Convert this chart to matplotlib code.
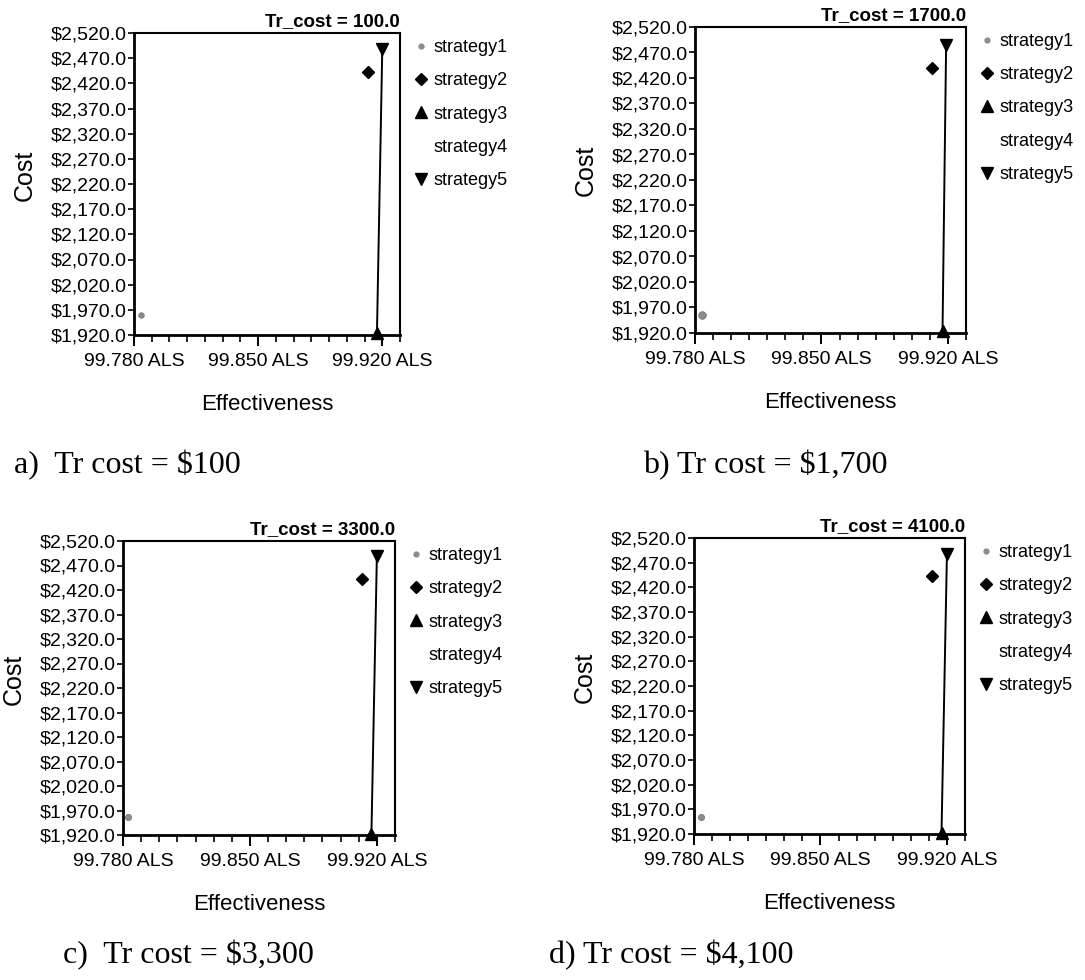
import matplotlib
matplotlib.use("Agg")
import matplotlib.pyplot as plt
import numpy as np
from matplotlib.lines import Line2D
from matplotlib.ticker import FixedLocator, FuncFormatter, MultipleLocator

plt.rcParams['font.family'] = ['Liberation Sans', 'DejaVu Sans']

# ---- data -------------------------------------------------------------
tr_costs = [100.0, 1700.0, 3300.0, 4100.0]
captions = ["a)  Tr cost = $100", "b) Tr cost = $1,700",
            "c)  Tr cost = $3,300", "d) Tr cost = $4,100"]
strategies = ["strategy1", "strategy2", "strategy3", "strategy4", "strategy5"]

# effectiveness (ALS) and cost per panel; strategy4 falls outside the plotted window
eff_s1 = [99.784, 99.784, 99.783, 99.784]
cost_s1 = [1959.0, 1955.0, 1956.0, 1955.0]
eff_s2 = [99.912, 99.911, 99.912, 99.912]
cost_s2 = [2443.0, 2440.0, 2442.0, 2443.0]
eff_s3 = [99.917, 99.917, 99.917, 99.917]
cost_s3 = [1923.0, 1923.0, 1923.0, 1923.0]
eff_s5 = [99.920, 99.919, 99.920, 99.920]
cost_s5 = [2488.0, 2485.0, 2489.0, 2488.0]

y_ticks = [1920, 1970, 2020, 2070, 2120, 2170, 2220, 2270, 2320, 2370, 2420, 2470, 2520]
x_ticks = [99.780, 99.850, 99.920]
x_limits = (99.780, 99.930)
y_limits = (1920, 2520)

# ---- layout (pixel boxes: left, top, right, bottom) --------------------
W, H = 1085, 980
boxes = [(134, 33, 400, 335), (695, 27, 966, 333),
         (123, 541, 395, 835), (694, 538, 965, 834)]
caption_pos = [(14, 465), (643, 465), (63, 955), (549, 955)]
s1_size = [4.0, 5.5, 4.5, 4.5]

fig = plt.figure(figsize=(W / 100, H / 100), dpi=100)

for i in range(4):
    l, t, r, b = boxes[i]
    ax = fig.add_axes([l / W, 1 - b / H, (r - l) / W, (b - t) / H])
    ax.set_xlim(*x_limits)
    ax.set_ylim(*y_limits)

    # frontier segment between strategy3 and strategy5
    ax.plot([eff_s3[i], eff_s5[i]], [cost_s3[i], cost_s5[i]], color='black',
            lw=1.4, zorder=2)
    ax.plot(eff_s1[i], cost_s1[i], 'o', color='#8c8c8c', ms=s1_size[i],
            mec='#6e6e6e', mew=0.5, zorder=3, clip_on=False)
    ax.plot(eff_s2[i], cost_s2[i], 'D', color='black', ms=6.3, zorder=3)
    ax.plot(eff_s3[i], cost_s3[i], '^', color='black', ms=9, zorder=3,
            clip_on=False)
    ax.plot(eff_s5[i], cost_s5[i], 'v', color='black', ms=9, zorder=3)

    ax.yaxis.set_major_locator(FixedLocator(y_ticks))
    ax.yaxis.set_major_formatter(FuncFormatter(lambda v, p: f"${v:,.1f}"))
    ax.xaxis.set_major_locator(FixedLocator(x_ticks))
    ax.xaxis.set_minor_locator(MultipleLocator(0.01))
    ax.xaxis.set_major_formatter(FuncFormatter(lambda v, p: f"{v:.3f} ALS"))

    ax.tick_params(axis='y', which='major', length=4, width=1.2, pad=1,
                   labelsize=14, direction='out')
    ax.tick_params(axis='x', which='major', length=8, width=1.4, pad=5,
                   labelsize=14, direction='out')
    ax.tick_params(axis='x', which='minor', length=5, width=1.2)

    for side in ['left', 'bottom']:
        ax.spines[side].set_linewidth(2.0)
    for side in ['top', 'right']:
        ax.spines[side].set_linewidth(1.5)

    ax.set_title(f"Tr_cost = {tr_costs[i]:.1f}", loc='right',
                 fontweight='bold', fontsize=13.5, pad=5)
    ax.set_ylabel("Cost", fontsize=18)
    ax.yaxis.set_label_coords(-97 / (r - l), 0.53)
    ax.set_xlabel("Effectiveness", fontsize=16)
    ax.xaxis.set_label_coords(0.5, -59 / (b - t))

    handles = [
        Line2D([], [], ls='none', marker='o', color='#8c8c8c', ms=3.5),
        Line2D([], [], ls='none', marker='D', color='black', ms=6),
        Line2D([], [], ls='none', marker='^', color='black', ms=8.5),
        Line2D([], [], ls='none', marker='', color='black'),
        Line2D([], [], ls='none', marker='v', color='black', ms=8.5),
    ]
    ax.legend(handles, strategies, loc='upper left',
              bbox_to_anchor=(1 + 15 / (r - l), 1 - 6 / (b - t)),
              frameon=False, fontsize=13, handlelength=0.7,
              handletextpad=0.35, borderpad=0, borderaxespad=0,
              labelspacing=0.9)

    cx, cy = caption_pos[i]
    fig.text(cx / W, 1 - cy / H, captions[i], fontsize=23,
             family=['Liberation Serif', 'DejaVu Serif'], va='center',
             ha='left')

fig.savefig("out.png", dpi=100, facecolor='white')
